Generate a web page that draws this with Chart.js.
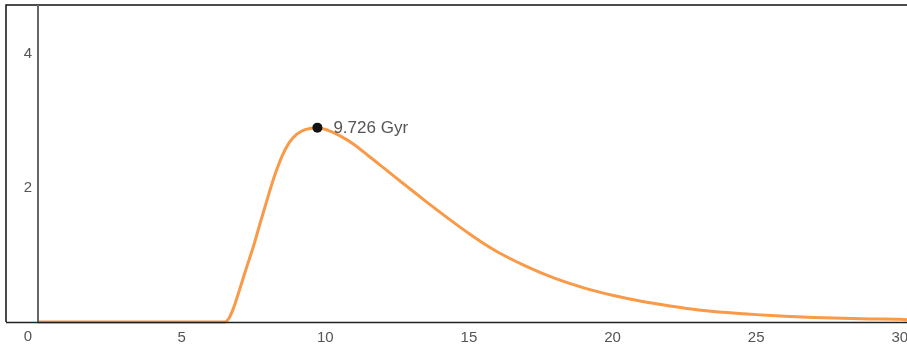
<!DOCTYPE html>
<html>
<head>
<meta charset="utf-8">
<script src="https://cdn.jsdelivr.net/npm/chart.js@4/dist/chart.umd.min.js"></script>
<style>
  html, body { margin: 0; padding: 0; background: #fff; }
  #wrap { width: 907px; height: 347px; position: relative; }
</style>
</head>
<body>
<div id="wrap"><canvas id="myChart"></canvas></div>
<script>
// age (Gyr) and rate
var ages  = [0, 6.5, 6.65, 6.8, 7.0, 7.25, 7.5, 7.75, 8.0, 8.25, 8.5, 8.75, 9.0, 9.3, 9.726, 10.1, 10.5, 11, 11.5, 12, 12.5, 13, 13.5, 14, 14.5, 15, 15.5, 16, 17, 18, 19, 20, 21, 22, 23, 24, 25, 26, 27, 28, 29, 30, 30.25];
var rates = [0, 0, 0.06, 0.2, 0.46, 0.8, 1.13, 1.5, 1.86, 2.2, 2.48, 2.68, 2.8, 2.87, 2.9, 2.86, 2.78, 2.65, 2.48, 2.31, 2.14, 1.97, 1.8, 1.635, 1.475, 1.32, 1.175, 1.045, 0.83, 0.65, 0.51, 0.4, 0.31, 0.24, 0.18, 0.14, 0.11, 0.085, 0.068, 0.055, 0.045, 0.04, 0.035];
var peakAge = 9.726;
var peakRate = 2.9;
var peakLabel = '9.726 Gyr';
var xTicks = [0, 5, 10, 15, 20, 25, 30];
var yTicks = [2, 4];

var points = ages.map(function (a, i) { return { x: a, y: rates[i] }; });

var framePlugin = {
  id: 'frame',
  afterDraw: function (chart) {
    var c = chart.ctx, a = chart.chartArea;
    var xs = chart.scales.x, ys = chart.scales.y;
    c.save();
    // outer frame
    c.strokeStyle = '#111';
    c.lineWidth = 1.5;
    c.beginPath();
    c.moveTo(a.left - 32, a.bottom);
    c.lineTo(a.left - 32, a.top);
    c.lineTo(a.right, a.top);
    c.stroke();
    // y axis
    c.strokeStyle = '#666';
    c.lineWidth = 2;
    c.beginPath();
    c.moveTo(a.left, a.top);
    c.lineTo(a.left, a.bottom);
    c.stroke();
    // x axis
    c.strokeStyle = '#222';
    c.lineWidth = 1.5;
    c.beginPath();
    c.moveTo(a.left - 32, a.bottom + 0.5);
    c.lineTo(a.right, a.bottom + 0.5);
    c.stroke();
    // corner "0"
    c.fillStyle = '#555';
    c.font = '15px "Liberation Sans", Arial, sans-serif';
    c.textAlign = 'center';
    c.textBaseline = 'top';
    c.fillText('0', a.left - 10, a.bottom + 7);
    // peak marker
    var px = xs.getPixelForValue(peakAge), py = ys.getPixelForValue(peakRate);
    c.fillStyle = '#111';
    c.beginPath();
    c.arc(px, py, 5, 0, Math.PI * 2);
    c.fill();
    c.fillStyle = '#555';
    c.font = '17px "Liberation Sans", Arial, sans-serif';
    c.textAlign = 'left';
    c.textBaseline = 'middle';
    c.fillText(peakLabel, px + 16, py + 1);
    c.restore();
  }
};

var ctx = document.getElementById('myChart').getContext('2d');
var myChart = new Chart(ctx, {
  type: 'line',
  data: {
    datasets: [{
      data: points,
      borderColor: '#f89a48',
      borderWidth: 3,
      pointRadius: 0,
      cubicInterpolationMode: 'monotone',
      fill: false,
      clip: false
    }]
  },
  options: {
    responsive: true,
    maintainAspectRatio: false,
    animation: false,
    layout: { padding: { top: 5, left: 0, right: 0, bottom: 0 } },
    plugins: { legend: { display: false }, tooltip: { enabled: false } },
    scales: {
      x: {
        type: 'linear',
        min: 0,
        max: 30.25,
        grid: { display: false, drawTicks: false },
        border: { display: false },
        afterBuildTicks: function (s) { s.ticks = xTicks.map(function (v) { return { value: v }; }); },
        afterFit: function (s) { s.height = 25; s.paddingLeft = 0; s.paddingRight = 0; },
        ticks: {
          color: '#555',
          padding: 7,
          maxRotation: 0,
          font: { family: '"Liberation Sans", Arial, sans-serif', size: 15 },
          callback: function (v) { return v === 0 ? '' : v; }
        }
      },
      y: {
        min: 0,
        max: 4.73,
        grid: { display: false, drawTicks: false },
        border: { display: false },
        afterBuildTicks: function (s) { s.ticks = yTicks.map(function (v) { return { value: v }; }); },
        afterFit: function (s) { s.width = 38; s.paddingTop = 0; s.paddingBottom = 0; },
        ticks: {
          color: '#555',
          padding: 6,
          font: { family: '"Liberation Sans", Arial, sans-serif', size: 15 }
        }
      }
    }
  },
  plugins: [framePlugin]
});
</script>
</body>
</html>
